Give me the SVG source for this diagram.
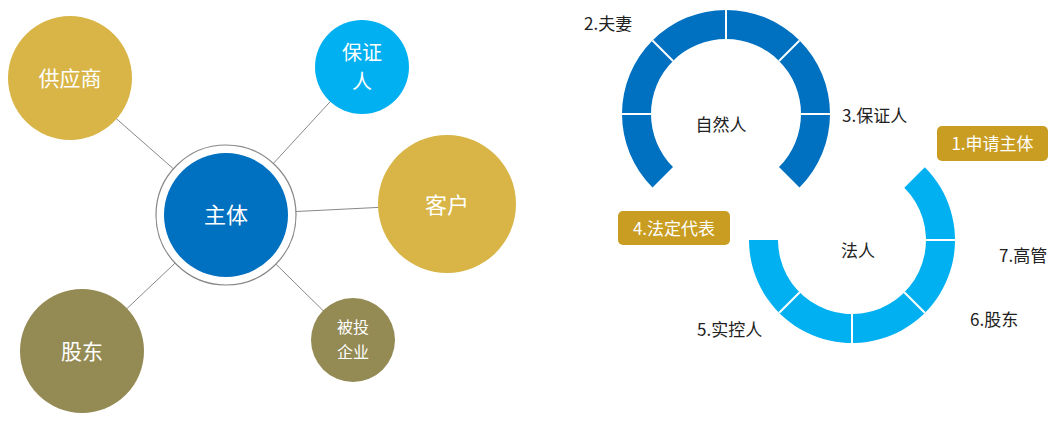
<svg xmlns="http://www.w3.org/2000/svg" width="1059" height="424" viewBox="0 0 1059 424">
<style>
text{font-family:"Noto Sans CJK SC","Liberation Sans",sans-serif}
.w{fill:#fff;text-anchor:middle}
.d{fill:#222;font-size:17px}
.sep{stroke:#fff;stroke-width:2}
.ln{stroke:#888;stroke-width:1;fill:none}
</style>
<rect width="1059" height="424" fill="#fff"/>
<g id="connectors">
<line class="ln" x1="70" y1="78" x2="226" y2="215"/>
<line class="ln" x1="362" y1="67" x2="226" y2="215"/>
<line class="ln" x1="447" y1="204" x2="226" y2="215"/>
<line class="ln" x1="82" y1="351" x2="226" y2="215"/>
<line class="ln" x1="353" y1="340" x2="226" y2="215"/>
</g>
<g id="n-supplier"><circle cx="70" cy="78" r="62" fill="#D8B546"/><text class="w" x="70" y="86" font-size="21">供应商</text></g>
<g id="n-guarantor"><circle cx="362" cy="67" r="47" fill="#00B0F0"/><text class="w" x="362" y="60" font-size="20">保证</text><text class="w" x="362" y="89" font-size="20">人</text></g>
<g id="n-main"><circle cx="226" cy="215" r="70" fill="#fff" stroke="#888" stroke-width="1.2"/><circle cx="226" cy="215" r="62" fill="#0070C0"/><text class="w" x="226" y="223" font-size="22">主体</text></g>
<g id="n-customer"><circle cx="447" cy="204" r="69" fill="#D8B546"/><text class="w" x="447" y="213" font-size="22">客户</text></g>
<g id="n-shareholder"><circle cx="82" cy="351" r="62" fill="#948A54"/><text class="w" x="82" y="359" font-size="21">股东</text></g>
<g id="n-invest"><circle cx="353" cy="340" r="42" fill="#948A54"/><text class="w" x="353" y="333" font-size="16">被投</text><text class="w" x="353" y="358" font-size="16">企业</text></g>
<g id="ring-natural">
<path d="M652.5,187.5 A104,104 0 1 1 799.5,187.5 L779,167 A75,75 0 1 0 673,167 Z" fill="#0070C0"/>
<line class="sep" x1="622" y1="114" x2="651" y2="114"/>
<line class="sep" x1="652.5" y1="40.5" x2="673" y2="61"/>
<line class="sep" x1="726" y1="10" x2="726" y2="39"/>
<line class="sep" x1="799.5" y1="40.5" x2="779" y2="61"/>
<line class="sep" x1="801" y1="114" x2="830" y2="114"/>
<text x="721" y="131" text-anchor="middle" class="d" font-size="18">自然人</text>
</g>
<g id="ring-legal">
<path d="M749,240 A103,103 0 1 0 924.8,167.2 L904.3,187.7 A74,74 0 1 1 778,240 Z" fill="#00B0F0"/>
<line class="sep" x1="779.2" y1="312.8" x2="799.7" y2="292.3"/>
<line class="sep" x1="852" y1="343" x2="852" y2="314"/>
<line class="sep" x1="924.8" y1="312.8" x2="904.3" y2="292.3"/>
<line class="sep" x1="926" y1="240" x2="955" y2="240"/>
<text x="858" y="257" text-anchor="middle" class="d" font-size="18">法人</text>
</g>
<g id="labels">
<text class="d" x="584" y="30">2.夫妻</text>
<text class="d" x="842" y="122">3.保证人</text>
<text class="d" x="999" y="262">7.高管</text>
<text class="d" x="970" y="326">6.股东</text>
<text class="d" x="697" y="336">5.实控人</text>
</g>
<g id="box1"><rect x="937" y="126" width="111" height="35" rx="5" fill="#C99D22"/><text class="w" x="992.5" y="150" font-size="17">1.申请主体</text></g>
<g id="box4"><rect x="618" y="211" width="112" height="34" rx="5" fill="#C99D22"/><text class="w" x="674" y="235" font-size="17">4.法定代表</text></g>
</svg>
